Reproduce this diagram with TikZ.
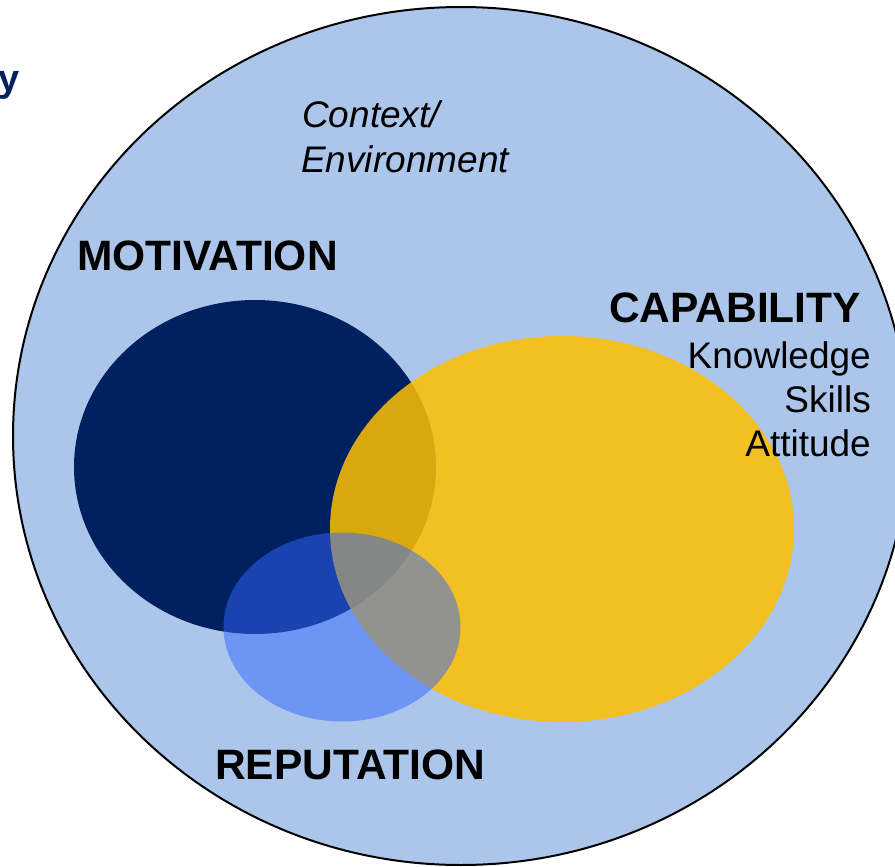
\documentclass[tikz,border=0pt]{standalone}
\usepackage{fontspec}
\setmainfont{Liberation Sans}
\usetikzlibrary{shapes.geometric}
\definecolor{skyblue}{RGB}{171,198,234}
\definecolor{navy}{RGB}{0,32,96}
\definecolor{gold}{RGB}{255,192,0}
\definecolor{royal}{RGB}{51,102,255}
\begin{document}
\begin{tikzpicture}[x=1pt,y=-1pt,
  blob/.style={ellipse, inner sep=0pt, draw=none},
  heading/.style={anchor=base west, inner sep=0pt, font=\fontsize{42.5}{50}\selectfont\bfseries},
  item/.style={anchor=base east, inner sep=0pt, font=\fontsize{37}{44}\selectfont},
  context/.style={anchor=base west, inner sep=0pt, font=\fontsize{37}{44}\selectfont\itshape}]
  \useasboundingbox (0,0) rectangle (895,867);
  \clip (0,0) rectangle (895,867);
  % surrounding context
  \node[blob, fill=skyblue, draw=black, line width=2pt,
        minimum width=896pt, minimum height=858pt] (env) at (461,436) {};
  % motivation, capability, reputation
  \node[blob, fill=navy, minimum width=362pt, minimum height=334pt] (mot) at (255,467) {};
  \node[blob, fill=gold, fill opacity=0.85, minimum width=464pt, minimum height=386pt] (cap) at (562,529) {};
  \node[blob, fill=royal, fill opacity=0.5, minimum width=237pt, minimum height=189pt] (rep) at (342,627) {};
  % labels
  \node[anchor=base east, inner sep=0pt, text=navy, font=\fontsize{38}{46}\selectfont\bfseries] (cut) at (20,92) {y};
  \node[context] (ctx1) at (302,128) {Context/};
  \node[context] (ctx2) at (301,172) {Environment};
  \node[heading] (motlabel) at (77,270) {MOTIVATION};
  \node[heading] (caplabel) at (609,322) {CAPABILITY};
  \node[item] (know) at (871,368) {Knowledge};
  \node[item] (skill) at (871,412) {Skills};
  \node[item] (att) at (871,456) {Attitude};
  \node[heading] (replabel) at (215,779) {REPUTATION};
\end{tikzpicture}
\end{document}
